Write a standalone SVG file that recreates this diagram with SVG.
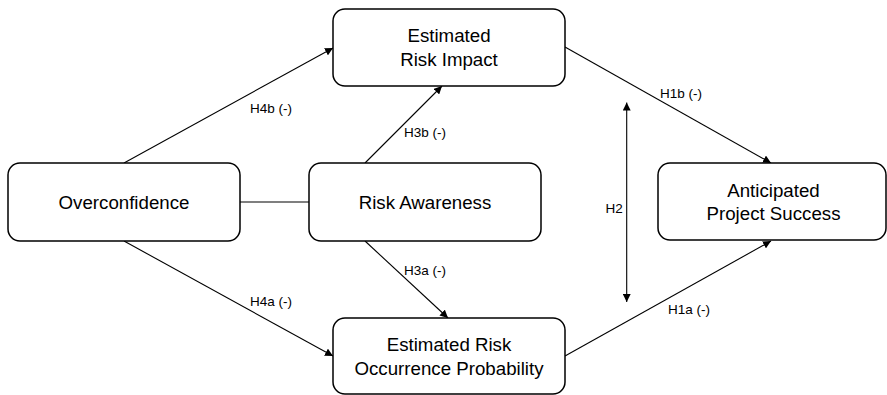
<svg xmlns="http://www.w3.org/2000/svg" width="887" height="395" viewBox="0 0 887 395">
<defs>
<marker id="ah" viewBox="0 0 10 10" refX="10" refY="5" markerWidth="8" markerHeight="8" markerUnits="userSpaceOnUse" orient="auto-start-reverse">
<path d="M0,0 L10,5 L0,10 z" fill="#000"/>
</marker>
<style>
.box{fill:#fff;stroke:#000;stroke-width:1.5}
.nt{font-family:"Liberation Sans",Arial,sans-serif;font-size:18.7px;fill:#000;text-anchor:middle}
.lb{font-family:"Liberation Sans",Arial,sans-serif;font-size:13.5px;fill:#000}
.ln{stroke:#000;stroke-width:1.1;fill:none}
</style>
</defs>
<rect width="887" height="395" fill="#fff"/>
<g id="connectors">
<line class="ln" x1="124" y1="163" x2="333" y2="48" marker-end="url(#ah)"/>
<line class="ln" x1="365" y1="163" x2="442" y2="86" marker-end="url(#ah)"/>
<line class="ln" x1="565" y1="47" x2="771" y2="163" marker-end="url(#ah)"/>
<line class="ln" x1="240" y1="202" x2="309" y2="202"/>
<line class="ln" x1="124" y1="241" x2="333" y2="356" marker-end="url(#ah)"/>
<line class="ln" x1="365" y1="241" x2="448" y2="318" marker-end="url(#ah)"/>
<line class="ln" x1="565" y1="356" x2="771" y2="241" marker-end="url(#ah)"/>
<line class="ln" x1="626.7" y1="102.5" x2="626.7" y2="302" marker-start="url(#ah)" marker-end="url(#ah)"/>
<text class="lb" x="250" y="113">H4b (-)</text>
<text class="lb" x="404" y="137">H3b (-)</text>
<text class="lb" x="660" y="98">H1b (-)</text>
<text class="lb" x="605.5" y="213">H2</text>
<text class="lb" x="404" y="275">H3a (-)</text>
<text class="lb" x="250" y="306">H4a (-)</text>
<text class="lb" x="668" y="314">H1a (-)</text>
</g>
<g id="impact">
<rect class="box" x="333" y="9" width="232" height="77" rx="12"/>
<text class="nt" x="449" y="42">Estimated</text>
<text class="nt" x="449" y="66">Risk Impact</text>
</g>
<g id="overconfidence">
<rect class="box" x="8" y="163" width="232" height="78" rx="12"/>
<text class="nt" x="124" y="208.7">Overconfidence</text>
</g>
<g id="awareness">
<rect class="box" x="309" y="163" width="232" height="78" rx="12"/>
<text class="nt" x="425" y="208.7">Risk Awareness</text>
</g>
<g id="success">
<rect class="box" x="658" y="163" width="228" height="77" rx="12"/>
<text class="nt" x="773.5" y="196.5">Anticipated</text>
<text class="nt" x="773.5" y="220">Project Success</text>
</g>
<g id="probability">
<rect class="box" x="333" y="318" width="232" height="76" rx="12"/>
<text class="nt" x="449" y="351">Estimated Risk</text>
<text class="nt" x="449" y="375">Occurrence Probability</text>
</g>
</svg>
